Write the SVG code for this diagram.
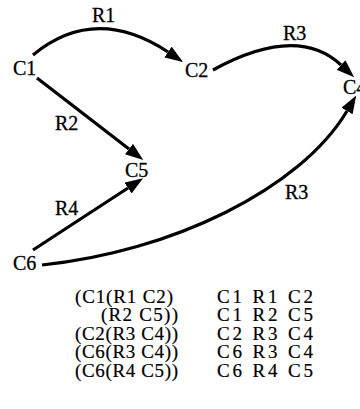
<svg xmlns="http://www.w3.org/2000/svg" width="360" height="409" viewBox="0 0 360 409">
<style>
.lbl{font-family:"Liberation Serif","Times New Roman",serif;font-size:20px;fill:#000;stroke:#000;stroke-width:0.3}
.lst{font-family:"Liberation Serif","Times New Roman",serif;font-size:19px;fill:#000;stroke:#000;stroke-width:0.2}
.edge{fill:none;stroke:#000;stroke-width:3.2;marker-end:url(#ah)}
</style>
<defs>
<marker id="ah" markerUnits="userSpaceOnUse" markerWidth="20" markerHeight="14" refX="0" refY="6.5" orient="auto" viewBox="0 0 20 14">
<path d="M0,0 L18,6.5 L0,13 z" fill="#000"/>
</marker>
</defs>
<rect width="360" height="409" fill="#fff"/>
<g id="connectors">
<g id="e-R1"><path class="edge" d="M33,55 Q95,4 168,52"/><text class="lbl" x="92" y="22">R1</text></g>
<g id="e-R3a"><path class="edge" d="M213,70 Q297,24 341,65"/><text class="lbl" x="283" y="40">R3</text></g>
<g id="e-R2"><path class="edge" d="M37,78 L129,149"/><text class="lbl" x="55" y="130">R2</text></g>
<g id="e-R4"><path class="edge" d="M33,250 L128,188"/><text class="lbl" x="55" y="215">R4</text></g>
<g id="e-R3b"><path class="edge" d="M42,265 C170,252 300,190 347,111"/><text class="lbl" x="285" y="199">R3</text></g>
</g>
<g id="C1"><text class="lbl" x="13" y="75">C1</text></g>
<g id="C2"><text class="lbl" x="185" y="77">C2</text></g>
<g id="C4"><text class="lbl" x="343" y="94">C4</text></g>
<g id="C5"><text class="lbl" x="125" y="177">C5</text></g>
<g id="C6"><text class="lbl" x="13" y="270">C6</text></g>
<g id="listing">
<text class="lst" x="75" y="303" textLength="98" lengthAdjust="spacing">(C1(R1 C2)</text>
<text class="lst" x="101" y="321" textLength="77" lengthAdjust="spacing">(R2 C5))</text>
<text class="lst" x="75" y="340" textLength="103" lengthAdjust="spacing">(C2(R3 C4))</text>
<text class="lst" x="75" y="358" textLength="103" lengthAdjust="spacing">(C6(R3 C4))</text>
<text class="lst" x="75" y="377" textLength="103" lengthAdjust="spacing">(C6(R4 C5))</text>
<text class="lst" x="217" y="303" textLength="96" lengthAdjust="spacing">C1 R1 C2</text>
<text class="lst" x="217" y="321" textLength="96" lengthAdjust="spacing">C1 R2 C5</text>
<text class="lst" x="217" y="340" textLength="96" lengthAdjust="spacing">C2 R3 C4</text>
<text class="lst" x="217" y="358" textLength="96" lengthAdjust="spacing">C6 R3 C4</text>
<text class="lst" x="217" y="377" textLength="96" lengthAdjust="spacing">C6 R4 C5</text>
</g>
</svg>
